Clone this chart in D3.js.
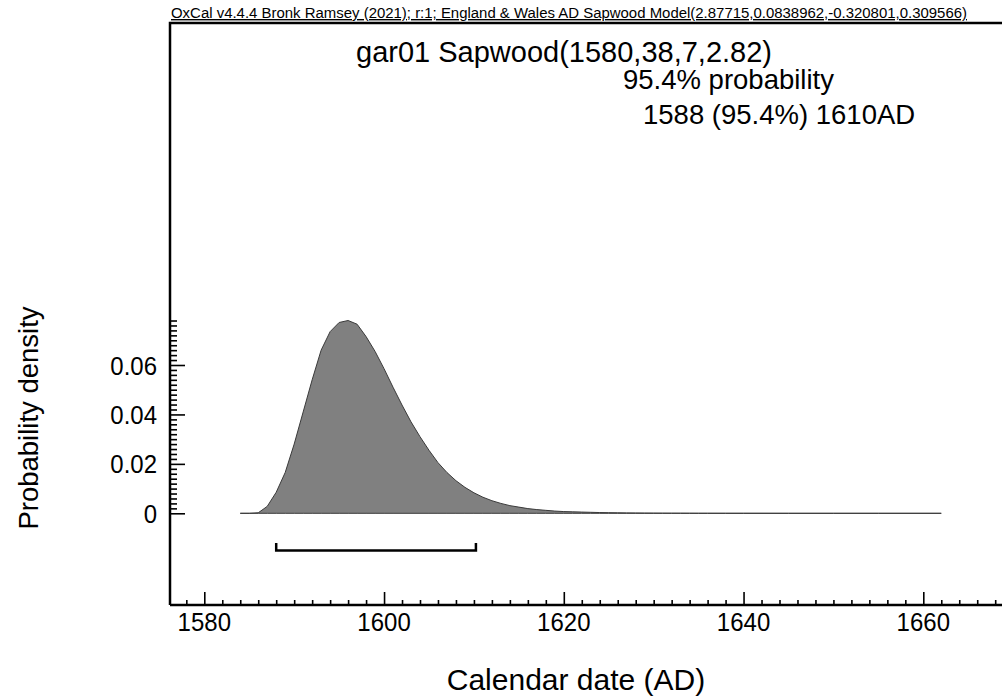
<!DOCTYPE html>
<html>
<head>
<meta charset="utf-8">
<script src="https://cdn.jsdelivr.net/npm/d3@7"></script>
<style>
  body { margin: 0; background: #fff; }
  svg { display: block; font-family: "Liberation Sans", Arial, sans-serif; }
</style>
</head>
<body>
<svg id="svg-main" width="1002" height="699"></svg>
<script>
// curve data, one point per year
var years = [1584, 1585, 1586, 1587, 1588, 1589, 1590, 1591, 1592, 1593,
    1594, 1595, 1596, 1597, 1598, 1599, 1600, 1601, 1602, 1603,
    1604, 1605, 1606, 1607, 1608, 1609, 1610, 1611, 1612, 1613,
    1614, 1615, 1616, 1617, 1618, 1619, 1620, 1621, 1622, 1623,
    1624, 1625, 1626, 1627, 1628, 1629, 1630, 1631, 1632, 1633,
    1634, 1635, 1636, 1638, 1640, 1645, 1650, 1655, 1662];
var density = [0, 0, 0.0002, 0.0028, 0.0085, 0.0165, 0.028, 0.041, 0.054, 0.066,
    0.0735, 0.0772, 0.078, 0.0765, 0.0715, 0.0655, 0.0585, 0.051, 0.0438, 0.037,
    0.031, 0.0255, 0.0205, 0.0165, 0.0132, 0.0105, 0.0083, 0.0065, 0.0051, 0.004,
    0.0031, 0.0025, 0.0019, 0.0015, 0.0012, 0.0009, 0.0007, 0.0006, 0.0005, 0.0004,
    0.0003, 0.00025, 0.0002, 0.00016, 0.00013, 0.0001, 0.00008, 0.00006, 0.00005, 0.00004,
    0.00003, 0.00002, 0.00002, 0.00001, 0.00001, 0, 0, 0, 0];

var xTicks = [1580, 1600, 1620, 1640, 1660];
var yTicks = [0, 0.02, 0.04, 0.06];
var yTickLabels = ["0", "0.02", "0.04", "0.06"];
var range95 = [1588, 1610];

var header = "OxCal v4.4.4 Bronk Ramsey (2021); r:1; England & Wales AD Sapwood  Model(2.87715,0.0838962,-0.320801,0.309566)";
var title = "gar01 Sapwood(1580,38,7,2.82)";
var probLabel = "95.4% probability";
var rangeLabel = "1588 (95.4%) 1610AD";

var svg = d3.select("svg");

var plotLeft = 170, plotTop = 23, plotBottom = 605, plotRight = 1002;

var x = d3.scaleLinear().domain([1580, 1660]).range([204.3, 923.3]);
var y = d3.scaleLinear().domain([0, 0.06]).range([513.3, 365]);

// header
svg.append("text")
    .attr("x", 171).attr("y", 18)
    .attr("font-size", 14)
    .attr("font-family", "'Liberation Sans Narrow', 'Arial Narrow', sans-serif")
    .attr("textLength", 796).attr("lengthAdjust", "spacingAndGlyphs")
    .attr("text-decoration", "underline")
    .text(header);

// frame
svg.append("path")
    .attr("d", "M" + plotLeft + "," + plotBottom + "V" + plotTop + "H" + plotRight)
    .attr("fill", "none").attr("stroke", "#000").attr("stroke-width", 2.5);

// area
var pts = years.map(function (d, i) { return {year: d, p: density[i]}; });
var area = d3.area()
    .x(function (d) { return x(d.year); })
    .y0(y(0))
    .y1(function (d) { return y(d.p); });
svg.append("path")
    .datum(pts)
    .attr("d", area)
    .attr("fill", "#808080")
    .attr("stroke", "#3a3a3a")
    .attr("stroke-width", 1);

// range bracket
svg.append("path")
    .attr("d", "M" + x(range95[0]) + "," + 543 + "V" + 550.5 + "H" + (x(range95[1]) + 2) + "V" + 543)
    .attr("fill", "none").attr("stroke", "#000").attr("stroke-width", 2.5);

// x axis
var xMinor = d3.range(1578, 1672, 2).filter(function (d) { return d % 20 !== 0; });
var gx = svg.append("g").attr("transform", "translate(0," + plotBottom + ")");
gx.append("g").call(d3.axisTop(x).tickValues(xTicks).tickSize(13).tickFormat(""));
gx.append("g").call(d3.axisTop(x).tickValues(xMinor).tickSize(5).tickFormat(""));
gx.selectAll(".domain").remove();
gx.selectAll("line").attr("stroke", "#000").attr("stroke-width", 1.6);
gx.append("line").attr("x1", plotLeft).attr("x2", plotRight).attr("stroke", "#000").attr("stroke-width", 2.5);
gx.selectAll(".xlab").data(xTicks).enter().append("text")
    .attr("class", "xlab")
    .attr("transform", function (d) { return "translate(" + x(d) + ",26) scale(1,1.1)"; })
    .attr("text-anchor", "middle")
    .attr("font-size", 24)
    .attr("fill", "#000")
    .text(function (d) { return d; });

// y axis
var yMinor = d3.range(0, 0.079, 0.002).filter(function (d, i) { return i % 10 !== 0; });
var gy = svg.append("g").attr("transform", "translate(" + plotLeft + ",0)");
gy.append("g").call(d3.axisRight(y).tickValues(yTicks).tickSize(15).tickFormat(""));
gy.append("g").call(d3.axisRight(y).tickValues(yMinor).tickSize(7).tickFormat(""));
gy.selectAll(".domain").remove();
gy.selectAll("line").attr("stroke", "#000").attr("stroke-width", 1.6);
gy.selectAll(".ylab").data(yTicks).enter().append("text")
    .attr("class", "ylab")
    .attr("transform", function (d) { return "translate(-13," + (y(d) + 9.5) + ") scale(1,1.1)"; })
    .attr("text-anchor", "end")
    .attr("font-size", 24)
    .attr("fill", "#000")
    .text(function (d, i) { return yTickLabels[i]; });

// titles
svg.append("text").attr("x", 356).attr("y", 62).attr("font-size", 29).text(title);
svg.append("text").attr("x", 623).attr("y", 89).attr("font-size", 27.5).text(probLabel);
svg.append("text").attr("x", 643).attr("y", 124).attr("font-size", 27.5).text(rangeLabel);

// axis labels
svg.append("text")
    .attr("transform", "translate(38,418) rotate(-90)")
    .attr("text-anchor", "middle")
    .attr("font-size", 27.5)
    .text("Probability density");
svg.append("text")
    .attr("x", 576).attr("y", 690)
    .attr("text-anchor", "middle")
    .attr("font-size", 30)
    .text("Calendar date (AD)");
</script>
</body>
</html>
